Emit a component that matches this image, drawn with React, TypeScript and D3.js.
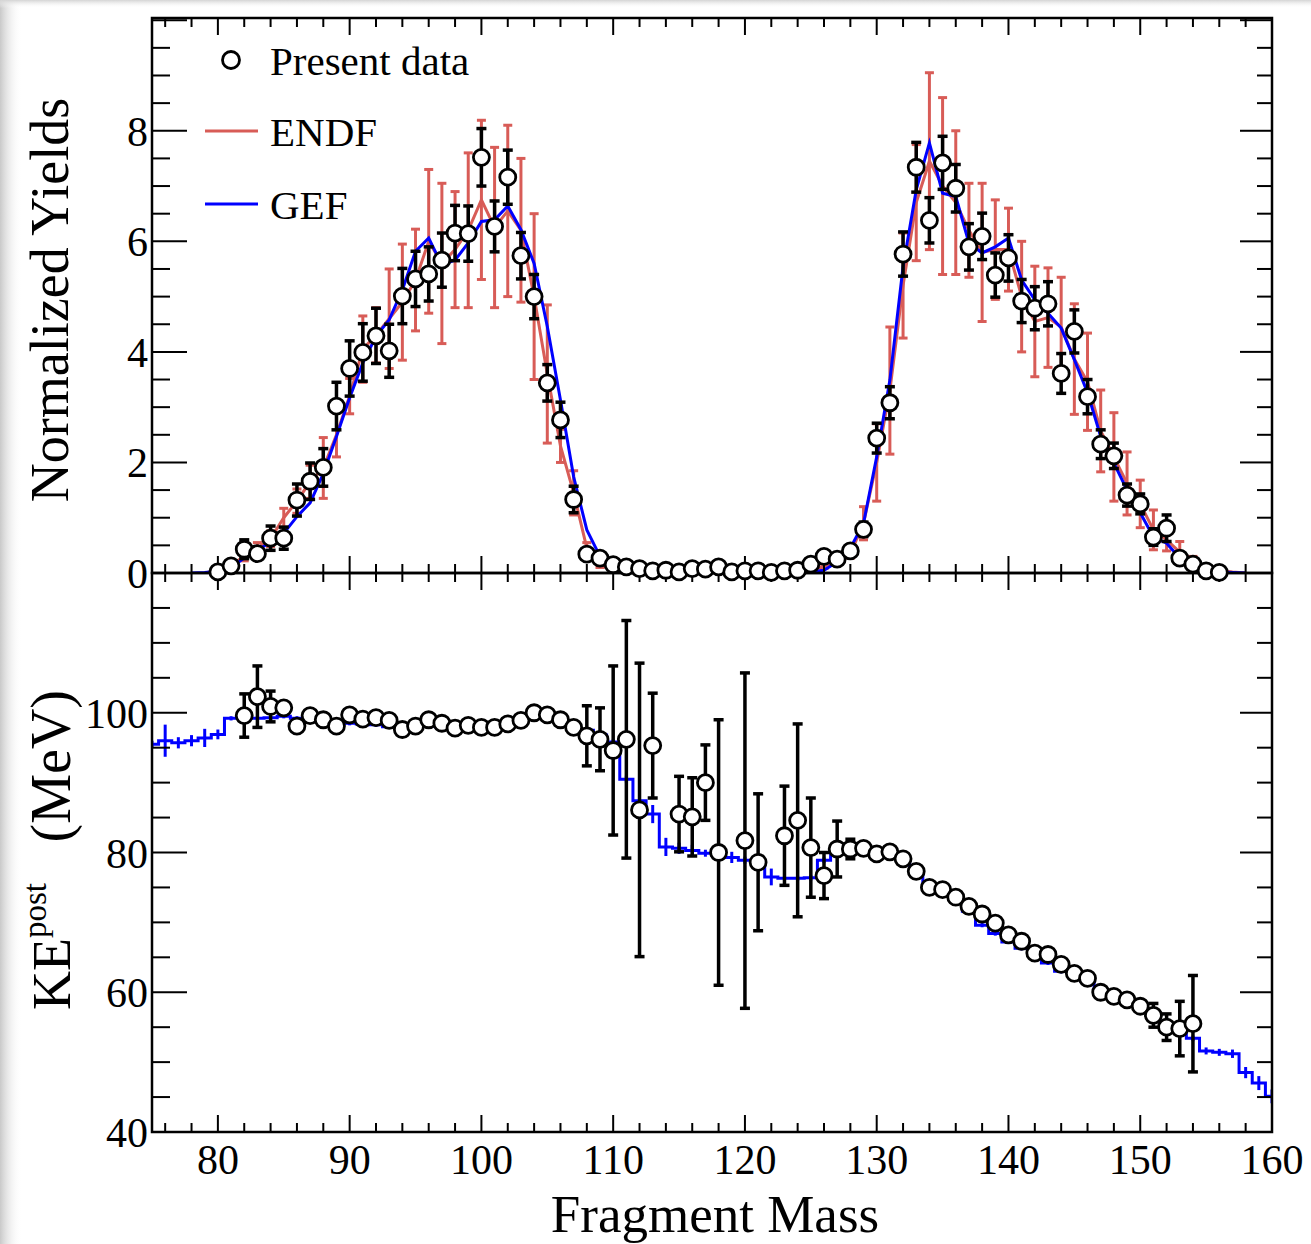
import React from 'react';
import * as d3 from 'd3';

// ---------- DATA ----------
// Top panel: measured yields (Present data)
const dataMass = [80,81,82,83,84,85,86,87,88,89,90,91,92,93,94,95,96,97,98,99,100,101,102,103,104,105,106,107,108,109,110,111,112,113,114,115,116,117,118,119,120,121,122,123,124,125,126,127,128,129,130,131,132,133,134,135,136,137,138,139,140,141,142,143,144,145,146,147,148,149,150,151,152,153,154,155,156];
const dataYield = [0.02,0.13,0.43,0.35,0.63,0.63,1.32,1.66,1.91,3.02,3.7,3.99,4.29,4.02,5.01,5.32,5.41,5.66,6.15,6.14,7.52,6.27,7.16,5.74,5.0,3.44,2.77,1.33,0.34,0.27,0.15,0.11,0.08,0.04,0.05,0.02,0.08,0.07,0.11,0.02,0.04,0.04,0.01,0.04,0.05,0.16,0.3,0.25,0.4,0.79,2.44,3.08,5.77,7.34,6.38,7.42,6.96,5.9,6.09,5.39,5.7,4.92,4.79,4.87,3.61,4.37,3.19,2.33,2.12,1.41,1.25,0.65,0.81,0.27,0.16,0.04,0.01];
const dataYieldErr = [0.05,0.08,0.17,0.1,0.22,0.2,0.29,0.33,0.34,0.43,0.5,0.52,0.5,0.48,0.5,0.5,0.49,0.49,0.5,0.5,0.52,0.46,0.49,0.42,0.4,0.33,0.32,0.24,0.08,0.07,0.05,0.05,0.05,0.05,0.05,0.05,0.05,0.05,0.05,0.05,0.05,0.05,0.05,0.05,0.05,0.06,0.08,0.08,0.1,0.13,0.27,0.29,0.4,0.45,0.41,0.48,0.43,0.42,0.42,0.4,0.42,0.39,0.39,0.4,0.36,0.39,0.31,0.26,0.23,0.2,0.18,0.15,0.24,0.1,0.08,0.05,0.03];

// ENDF yields
const endfMass = [79,80,81,82,83,84,85,86,87,88,89,90,91,92,93,94,95,96,97,98,99,100,101,102,103,104,105,106,107,108,109,110,111,112,113,114,115,116,117,118,119,120,121,122,123,124,125,126,127,128,129,130,131,132,133,134,135,136,137,138,139,140,141,142,143,144,145,146,147,148,149,150,151,152,153,154,155,156,157,158];
const endfYield = [0,0.05,0.15,0.3,0.45,0.62,1.0,1.3,1.65,1.9,2.5,3.2,4.05,4.3,4.6,4.9,5.3,6.0,5.6,5.85,6.2,6.75,6.25,6.55,6.2,5.0,3.6,2.3,1.45,0.45,0.15,0.05,0.02,0.01,0.01,0.01,0.01,0.01,0.01,0.01,0.01,0.01,0.01,0.01,0.01,0.02,0.05,0.12,0.2,0.35,0.9,2.0,3.3,5.2,6.7,7.45,7.0,6.7,6.2,5.8,5.85,5.85,5.0,4.55,4.62,4.45,3.87,3.46,2.57,2.1,1.62,1.25,0.78,0.6,0.38,0.2,0.1,0.05,0.02,0];
const endfErr = [0,0.02,0.05,0.08,0.1,0.14,0.17,0.22,0.3,0.55,0.4,0.32,0.6,0.5,0.9,1.05,0.92,1.3,1.45,1.05,1.4,1.44,1.45,1.55,1.3,1.5,1.25,0.3,0.4,0.1,0.05,0.02,0,0,0,0,0,0,0,0,0,0,0,0,0,0,0.02,0.04,0.06,0.08,0.3,0.7,1.15,0.95,1.05,1.6,1.6,1.3,0.85,1.25,0.9,0.75,1.0,1.0,0.9,0.9,1.0,0.88,0.74,0.8,0.57,0.43,0.36,0.2,0.19,0.1,0.05,0.03,0,0];

// GEF yields
const gefMass = [78,79,80,81,82,83,84,85,86,87,88,89,90,91,92,93,94,95,96,97,98,99,100,101,102,103,104,105,106,107,108,109,110,111,112,113,114,115,116,117,118,119,120,121,122,123,124,125,126,127,128,129,130,131,132,133,134,135,136,137,138,139,140,141,142,143,144,145,146,147,148,149,150,151,152,153,154,155,156,157,158];
const gefYield = [0,0.01,0.03,0.1,0.27,0.42,0.55,0.72,1.02,1.27,1.8,2.47,3.17,3.8,4.28,4.58,5.12,5.82,6.06,5.57,5.66,5.97,6.36,6.39,6.64,6.21,5.6,4.46,3.13,1.74,0.78,0.3,0.1,0.05,0.03,0.02,0.01,0.01,0.01,0.01,0.01,0.01,0.01,0.01,0.01,0.01,0.01,0.02,0.05,0.2,0.45,0.9,2.1,3.49,5.54,6.93,7.78,6.87,6.81,5.97,5.79,5.9,6.06,5.3,4.94,4.7,4.43,3.86,3.26,2.47,1.99,1.5,1.09,0.65,0.54,0.27,0.14,0.06,0.02,0.01,0];

// Bottom panel: measured KE post
const keMass = [82,83,84,85,86,87,88,89,90,91,92,93,94,95,96,97,98,99,100,101,102,103,104,105,106,107,108,109,110,111,112,113,115,116,117,118,120,121,123,124,125,126,127,128,129,130,131,132,133,134,135,136,137,138,139,140,141,142,143,144,145,146,147,148,149,150,151,152,153,154];
const keValue = [99.6,102.3,100.9,100.7,98.1,99.6,99.0,98.1,99.7,99.1,99.3,98.9,97.6,98.1,99.0,98.5,97.8,98.2,97.9,97.9,98.4,98.9,100.0,99.7,99.0,97.9,96.7,96.2,94.6,96.2,86.1,95.3,85.5,85.1,90.0,80.0,81.7,78.6,82.4,84.6,80.7,76.7,80.5,80.5,80.6,79.8,80.1,79.1,77.3,75.0,74.7,73.6,72.3,71.2,69.9,68.2,67.3,65.6,65.4,64.0,62.7,62.0,60.0,59.4,58.9,58.0,56.7,55.0,54.8,55.5];
const keErr = [3.1,4.4,2.2,0.6,0.4,0.4,0.4,0.4,0.4,0.4,0.4,0.4,0.4,0.4,0.4,0.4,0.4,0.4,0.4,0.4,0.4,0.4,0.4,0.4,0.4,0.6,4.3,4.5,12.1,17,21,7.5,5.4,5.6,5.4,19,24,9.8,7.1,13.8,7.1,3.3,4.0,1.4,0.8,0.4,0.4,0.4,0.4,0.4,0.4,0.4,0.4,0.4,0.4,0.4,0.4,0.4,0.4,0.4,0.4,0.4,0.4,0.4,0.4,0.4,1.7,1.9,3.9,6.9];

// GEF KE post (histogram, 1-unit bins)
const gefKeMass = [75,76,77,78,79,80,81,82,83,84,85,86,87,88,89,90,91,92,93,94,95,96,97,98,99,100,101,102,103,104,105,106,107,108,109,110,111,112,113,114,115,116,117,118,119,120,121,122,123,124,125,126,127,128,129,130,131,132,133,134,135,136,137,138,139,140,141,142,143,144,145,146,147,148,149,150,151,152,153,154,155,156,157,158,159,160];
const gefKe = [95.5,96.0,95.7,96.0,96.4,96.9,99.2,99.3,99.2,99.3,99.5,99.2,98.9,98.7,98.6,98.5,98.4,98.3,98.0,97.8,97.9,98.1,98.0,97.9,97.9,98.0,98.1,98.5,98.9,99.2,99.2,98.9,98.0,97.5,96.8,95.8,90.5,87.4,85.5,80.8,80.6,80.3,79.9,79.6,79.3,78.9,78.6,76.5,76.3,76.3,76.4,78.9,80.2,80.4,80.5,80.0,79.8,78.8,77.0,75.0,74.5,73.3,71.6,69.6,68.4,67.2,66.3,65.3,64.2,63.0,62.4,61.6,59.9,59.2,58.6,57.8,56.5,55.2,54.3,53.4,51.6,51.4,51.2,48.5,47.0,45.1];
const gefKeErr = [0.5,2.3,0.8,0.8,1.3,0.7,0.3,0.3,0.3,0.3,0.3,0.3,0.3,0.3,0.3,0.3,0.3,0.3,0.3,0.3,0.3,0.3,0.3,0.3,0.3,0.3,0.3,0.3,0.3,0.3,0.3,0.3,0.3,0.3,0.3,0.4,0.5,0.6,1.3,1.3,0.8,0.8,0.5,0.6,0.8,0.5,0.5,1.2,1.0,0.4,0.4,0.4,0.3,0.3,0.3,0.3,0.3,0.3,0.3,0.3,0.3,0.3,0.3,0.3,0.3,0.3,0.3,0.3,0.3,0.3,0.3,0.3,0.3,0.3,0.3,0.3,0.3,0.3,0.3,0.4,0.5,0.5,0.6,0.8,1.0,1.0];

const xTickLabels = ['80','90','100','110','120','130','140','150','160'];
const topYTickLabels = ['0','2','4','6','8'];
const botYTickLabels = ['40','60','80','100'];
const legendLabels = ['Present data', 'ENDF', 'GEF'];

// ---------- STYLE ----------
const RED = '#d85c57';
const BLUE = '#0000ff';
const FONT = '"Liberation Serif", "Times New Roman", serif';

export default function App() {
  const W = 1311, H = 1244;
  const L = 152, R = 1272;
  const T1 = 18, MID = 573, B2 = 1132;

  const x = d3.scaleLinear().domain([75, 160]).range([L, R]);
  const yTop = d3.scaleLinear().domain([0, 10.04]).range([MID, T1]);
  const yBot = d3.scaleLinear().domain([40, 120]).range([B2, MID]);

  const lineTop = d3.line<[number, number]>().x(d => x(d[0])).y(d => yTop(d[1]));
  const endfPath = lineTop(endfMass.map((m, i) => [m, endfYield[i]]))!;
  const gefPath = lineTop(gefMass.map((m, i) => [m, gefYield[i]]))!;

  const stepPts: [number, number][] = gefKeMass.map((m, i) => [m - 0.5, gefKe[i]]);
  stepPts.push([gefKeMass[gefKeMass.length - 1] + 0.5, gefKe[gefKe.length - 1]]);
  const stepPath = d3.line<[number, number]>().x(d => x(d[0])).y(d => yBot(d[1])).curve(d3.curveStepAfter)(stepPts)!;

  const xMinor = d3.range(76, 160.01, 2);
  const topYT = d3.range(0, 10.001, 0.5);
  const botYT = d3.range(40, 120.001, 5);

  const cap = 5;
  const redCap = 4.5;

  const ticks: JSX.Element[] = [];
  xMinor.forEach((m, i) => {
    const major = Math.abs(m % 10) < 1e-6;
    const len = major ? 17 : 9;
    const xx = x(m);
    ticks.push(<line key={'xt1' + i} x1={xx} x2={xx} y1={T1} y2={T1 + len} />);
    ticks.push(<line key={'xt2' + i} x1={xx} x2={xx} y1={MID} y2={MID - len} />);
    ticks.push(<line key={'xt3' + i} x1={xx} x2={xx} y1={MID} y2={MID + len} />);
    ticks.push(<line key={'xt4' + i} x1={xx} x2={xx} y1={B2} y2={B2 - len} />);
  });
  topYT.forEach((v, i) => {
    const major = Math.abs(v % 2) < 1e-6;
    const yy = yTop(v);
    ticks.push(<line key={'yt1' + i} x1={L} x2={L + (major ? 35 : 18)} y1={yy} y2={yy} />);
    ticks.push(<line key={'yt2' + i} x1={R} x2={R - (major ? 32 : 15)} y1={yy} y2={yy} />);
  });
  botYT.forEach((v, i) => {
    const major = Math.abs(v % 20) < 1e-6;
    const yy = yBot(v);
    ticks.push(<line key={'yb1' + i} x1={L} x2={L + (major ? 35 : 18)} y1={yy} y2={yy} />);
    ticks.push(<line key={'yb2' + i} x1={R} x2={R - (major ? 32 : 15)} y1={yy} y2={yy} />);
  });

  const errBar = (key: string, xx: number, y1: number, y2: number, c: number) => (
    <g key={key}>
      <line x1={xx} x2={xx} y1={y1} y2={y2} />
      <line x1={xx - c} x2={xx + c} y1={y1} y2={y1} />
      <line x1={xx - c} x2={xx + c} y1={y2} y2={y2} />
    </g>
  );

  return (
    <svg width={W} height={H} style={{ position: 'absolute', left: 0, top: 0, background: '#fff' }} fontFamily={FONT}>
      <defs>
        <linearGradient id="shL" x1="0" x2="1" y1="0" y2="0">
          <stop offset="0" stopColor="#c9c9c9" />
          <stop offset="1" stopColor="#ffffff" stopOpacity="0" />
        </linearGradient>
        <linearGradient id="shT" x1="0" x2="0" y1="0" y2="1">
          <stop offset="0" stopColor="#d4d4d4" />
          <stop offset="1" stopColor="#ffffff" stopOpacity="0" />
        </linearGradient>
        <clipPath id="clipTop"><rect x={L} y={T1} width={R - L} height={MID - T1} /></clipPath>
        <clipPath id="clipBot"><rect x={L} y={MID} width={R - L} height={B2 - MID} /></clipPath>
      </defs>
      <rect x={0} y={0} width={W} height={H} fill="#fff" />
      <rect x={0} y={0} width={22} height={H} fill="url(#shL)" />
      <rect x={0} y={0} width={W} height={8} fill="url(#shT)" />

      {/* ---- top panel ---- */}
      <g clipPath="url(#clipTop)">
        <path d={endfPath} fill="none" stroke={RED} strokeWidth={3} />
        <g stroke={RED} strokeWidth={3}>
          {endfMass.map((m, i) => endfErr[i] > 0.03
            ? errBar('re' + i, x(m), yTop(endfYield[i] - endfErr[i]), yTop(endfYield[i] + endfErr[i]), redCap)
            : null)}
        </g>
        <path d={gefPath} fill="none" stroke={BLUE} strokeWidth={3} />
        <g stroke="#000" strokeWidth={3.5}>
          {dataMass.map((m, i) =>
            errBar('be' + i, x(m), yTop(dataYield[i] - dataYieldErr[i]), yTop(dataYield[i] + dataYieldErr[i]), cap))}
        </g>
      </g>

      {/* ---- bottom panel ---- */}
      <g clipPath="url(#clipBot)">
        <path d={stepPath} fill="none" stroke={BLUE} strokeWidth={3} />
        <g stroke={BLUE} strokeWidth={3}>
          {gefKeMass.map((m, i) => (
            <line key={'ge' + i} x1={x(m)} x2={x(m)} y1={yBot(gefKe[i] - gefKeErr[i])} y2={yBot(gefKe[i] + gefKeErr[i])} />
          ))}
        </g>
        <g stroke="#000" strokeWidth={3.5}>
          {keMass.map((m, i) =>
            errBar('ke' + i, x(m), yBot(keValue[i] - keErr[i]), yBot(keValue[i] + keErr[i]), cap))}
        </g>
      </g>

      {/* ticks and frames */}
      <g stroke="#000" strokeWidth={2}>{ticks}</g>
      <rect x={L} y={T1} width={R - L} height={MID - T1} fill="none" stroke="#000" strokeWidth={2.5} />
      <rect x={L} y={MID} width={R - L} height={B2 - MID} fill="none" stroke="#000" strokeWidth={2.5} />

      {/* markers on top */}
      <g fill="#fff" stroke="#000" strokeWidth={2.8}>
        {dataMass.map((m, i) => <circle key={'c' + i} cx={x(m)} cy={yTop(dataYield[i])} r={8} />)}
        {keMass.map((m, i) => <circle key={'k' + i} cx={x(m)} cy={yBot(keValue[i])} r={8} />)}
      </g>

      {/* tick labels */}
      <g fontSize={42} fill="#000">
        {xTickLabels.map(t => (
          <text key={'xl' + t} x={x(+t)} y={1174} textAnchor="middle">{t}</text>
        ))}
        {topYTickLabels.map(t => (
          <text key={'tl' + t} x={148} y={yTop(+t) + 15} textAnchor="end">{t}</text>
        ))}
        {botYTickLabels.map(t => (
          <text key={'bl' + t} x={148} y={yBot(+t) + 15} textAnchor="end">{t}</text>
        ))}
      </g>

      {/* axis titles */}
      <text x={(L + R) / 2 + 3} y={1232} fontSize={53} textAnchor="middle">Fragment Mass</text>
      <text transform="translate(68,300) rotate(-90)" fontSize={54} textAnchor="middle">Normalized Yields</text>
      <text transform="translate(70,1010) rotate(-90)" fontSize={54} textAnchor="start">
        KE<tspan fontSize={33} dy={-24}>post</tspan>
      </text>
      <text transform="translate(70,690) rotate(-90)" fontSize={56} textAnchor="end">(MeV)</text>

      {/* legend */}
      <circle cx={231} cy={60} r={8.5} fill="#fff" stroke="#000" strokeWidth={2.8} />
      <text x={270} y={75} fontSize={41}>{legendLabels[0]}</text>
      <line x1={205} x2={258} y1={131} y2={131} stroke={RED} strokeWidth={3} />
      <text x={270} y={146} fontSize={41}>{legendLabels[1]}</text>
      <line x1={205} x2={258} y1={204} y2={204} stroke={BLUE} strokeWidth={3} />
      <text x={270} y={219} fontSize={41}>{legendLabels[2]}</text>
    </svg>
  );
}
